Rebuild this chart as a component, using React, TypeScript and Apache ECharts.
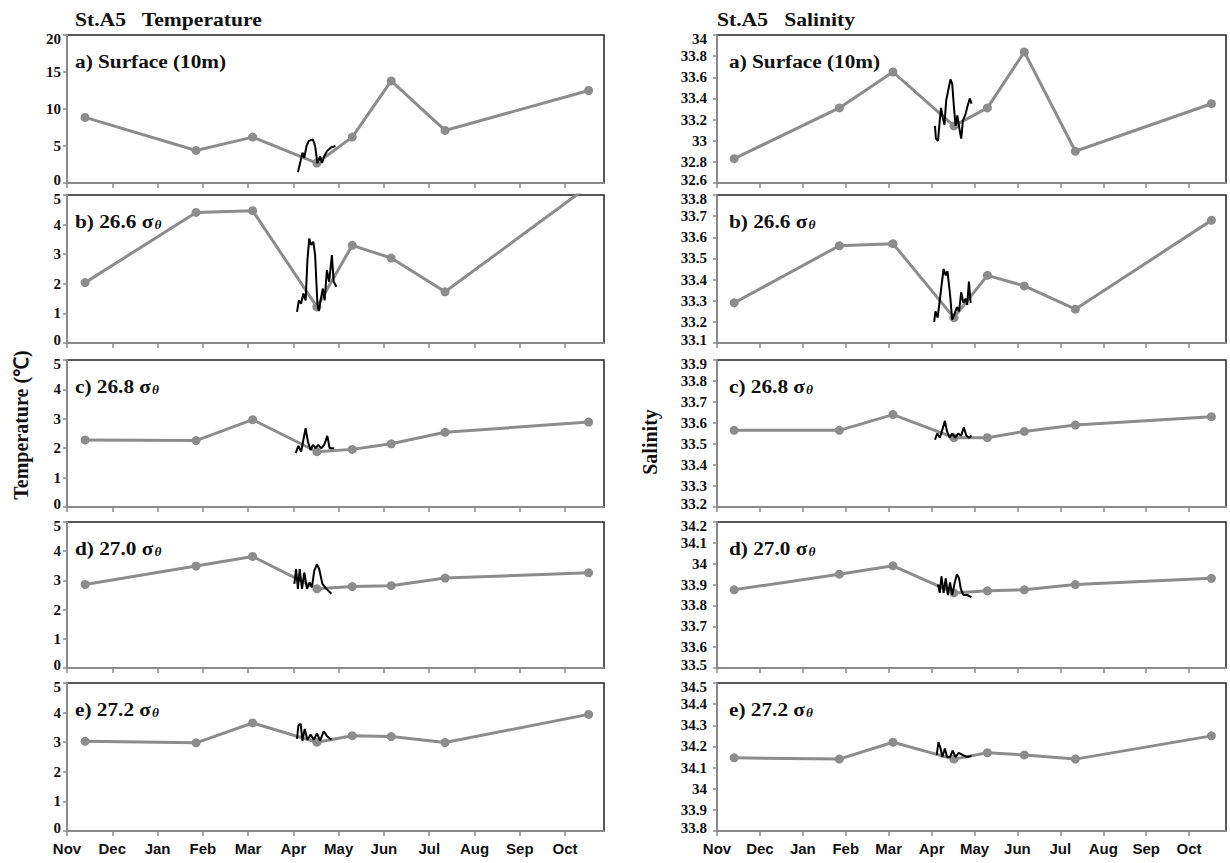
import React, { useEffect, useRef } from 'react';
import * as echarts from 'echarts';

// ---------- data ----------
const monthLabels = ['Nov', 'Dec', 'Jan', 'Feb', 'Mar', 'Apr', 'May', 'Jun', 'Jul', 'Aug', 'Sep', 'Oct'];
const monthTicks = [0, 1, 2, 3, 4, 5, 6, 7, 8, 9, 10, 11];
// ship sampling dates (months since 1 Nov)
const sampleMonths = [0.4, 2.85, 4.1, 5.52, 6.3, 7.16, 8.35, 11.52];

// Temperature (°C), ship observations
const tempSurface = [8.86, 4.4, 6.2, 2.7, 6.2, 13.8, 7.1, 12.5];
const temp266 = [2.04, 4.41, 4.47, 1.22, 3.3, 2.87, 1.73, 5.3];
const temp268 = [2.28, 2.26, 2.97, 1.88, 1.96, 2.15, 2.54, 2.89];
const temp270 = [2.86, 3.49, 3.82, 2.71, 2.79, 2.82, 3.08, 3.26];
const temp272 = [3.03, 2.98, 3.65, 3.0, 3.22, 3.19, 2.99, 3.94];

// Salinity, ship observations
const salSurface = [32.83, 33.31, 33.65, 33.14, 33.31, 33.84, 32.9, 33.35];
const sal266 = [33.29, 33.56, 33.57, 33.22, 33.42, 33.37, 33.26, 33.68];
const sal268 = [33.565, 33.565, 33.64, 33.53, 33.53, 33.56, 33.59, 33.63];
const sal270 = [33.875, 33.95, 33.99, 33.86, 33.87, 33.875, 33.9, 33.93];
const sal272 = [34.146, 34.14, 34.22, 34.14, 34.17, 34.16, 34.14, 34.25];

// April high-frequency records: [month, value]
const tempSurfaceHF = [[5.10, 1.45], [5.16, 3.0], [5.20, 4.1], [5.24, 3.4], [5.29, 5.0], [5.34, 5.7], [5.43, 5.9], [5.48, 5.0], [5.53, 2.7], [5.59, 3.6], [5.63, 2.7], [5.68, 3.6], [5.74, 4.3], [5.83, 4.8], [5.93, 5.0]];
const temp266HF = [[5.08, 1.05], [5.12, 1.44], [5.17, 1.33], [5.22, 1.67], [5.27, 1.44], [5.31, 2.8], [5.35, 3.53], [5.39, 3.31], [5.44, 3.42], [5.48, 2.97], [5.53, 1.33], [5.56, 1.08], [5.6, 1.44], [5.65, 1.84], [5.69, 1.44], [5.74, 2.46], [5.79, 2.07], [5.85, 2.97], [5.89, 2.07], [5.95, 1.9]];
const temp268HF = [[5.05, 1.83], [5.11, 2.08], [5.17, 1.88], [5.22, 2.28], [5.27, 2.68], [5.32, 2.23], [5.38, 1.94], [5.43, 2.11], [5.49, 2.0], [5.55, 2.11], [5.62, 2.0], [5.68, 2.11], [5.75, 2.42], [5.8, 2.0], [5.9, 2.0]];
const temp270HF = [[5.02, 2.88], [5.06, 3.39], [5.1, 2.71], [5.14, 3.39], [5.19, 2.71], [5.24, 3.27], [5.3, 2.71], [5.36, 2.93], [5.41, 2.77], [5.46, 3.33], [5.52, 3.56], [5.57, 3.39], [5.64, 2.88], [5.73, 2.71], [5.84, 2.54]];
const temp272HF = [[5.08, 3.11], [5.11, 3.56], [5.16, 3.62], [5.2, 3.05], [5.25, 3.45], [5.31, 3.08], [5.38, 3.26], [5.45, 3.08], [5.52, 3.3], [5.59, 3.05], [5.67, 3.37], [5.75, 3.19], [5.84, 3.08]];

const salSurfaceHF = [[5.08, 33.14], [5.1, 33.02], [5.15, 33.0], [5.19, 33.19], [5.22, 33.31], [5.26, 33.22], [5.3, 33.15], [5.34, 33.38], [5.39, 33.48], [5.44, 33.58], [5.48, 33.54], [5.52, 33.32], [5.56, 33.14], [5.6, 33.24], [5.65, 33.11], [5.69, 33.02], [5.73, 33.19], [5.79, 33.25], [5.84, 33.33], [5.89, 33.4], [5.93, 33.35]];
const sal266HF = [[5.06, 33.2], [5.09, 33.25], [5.14, 33.22], [5.19, 33.3], [5.23, 33.37], [5.28, 33.45], [5.33, 33.42], [5.37, 33.44], [5.43, 33.33], [5.48, 33.21], [5.54, 33.24], [5.59, 33.27], [5.64, 33.25], [5.69, 33.34], [5.74, 33.29], [5.79, 33.31], [5.83, 33.28], [5.87, 33.39], [5.91, 33.29]];
const sal268HF = [[5.08, 33.52], [5.13, 33.55], [5.19, 33.53], [5.24, 33.56], [5.31, 33.61], [5.36, 33.56], [5.42, 33.53], [5.48, 33.55], [5.55, 33.53], [5.62, 33.55], [5.69, 33.54], [5.75, 33.58], [5.81, 33.54], [5.87, 33.53], [5.93, 33.54]];
const sal270HF = [[5.15, 33.9], [5.19, 33.86], [5.23, 33.94], [5.28, 33.86], [5.33, 33.93], [5.38, 33.85], [5.43, 33.91], [5.48, 33.85], [5.54, 33.91], [5.59, 33.95], [5.64, 33.93], [5.68, 33.88], [5.74, 33.85], [5.83, 33.85], [5.93, 33.84]];
const sal272HF = [[5.12, 34.16], [5.16, 34.22], [5.21, 34.19], [5.25, 34.15], [5.31, 34.19], [5.36, 34.15], [5.43, 34.15], [5.49, 34.18], [5.56, 34.15], [5.63, 34.17], [5.72, 34.16], [5.82, 34.15], [5.93, 34.155]];

const tempRanges = [[0, 20, 5], [0, 5, 1], [0, 5, 1], [0, 5, 1], [0, 5, 1]];
const salRanges = [[32.6, 34, 0.2], [33.1, 33.8, 0.1], [33.2, 33.9, 0.1], [33.5, 34.2, 0.1], [33.8, 34.5, 0.1]];
const panelTags = ['a) Surface (10m)', 'b) 26.6 ', 'c) 26.8 ', 'd) 27.0 ', 'e) 27.2 '];

// ---------- layout ----------
const rowTop = [35, 195, 360, 522, 683];
const rowBottom = [183, 343, 507, 668, 831];
const colLeft = [67, 717];
const colWidth = [537, 509];
const xMax = 11.86;

const SERIF = "'Liberation Serif', 'Times New Roman', serif";
const SANS = "'Liberation Sans', Arial, sans-serif";
const GRAY = '#8c8c8c';
const AXIS = '#8a8a8a';

const fmtNum = (v: number) => String(parseFloat(v.toFixed(3)));

export default function App() {
  const ref = useRef<HTMLDivElement>(null);
  useEffect(() => {
    if (!ref.current) return;
    const chart = echarts.init(ref.current, undefined, { renderer: 'svg' });
    const tempShip = [tempSurface, temp266, temp268, temp270, temp272];
    const salShip = [salSurface, sal266, sal268, sal270, sal272];
    const tempHF = [tempSurfaceHF, temp266HF, temp268HF, temp270HF, temp272HF];
    const salHF = [salSurfaceHF, sal266HF, sal268HF, sal270HF, sal272HF];

    const grids: any[] = [];
    const xAxes: any[] = [];
    const yAxes: any[] = [];
    const series: any[] = [];
    const graphics: any[] = [];

    const tickFont = { fontFamily: SERIF, fontWeight: 'bold', fontSize: 15, color: '#111' };

    for (let c = 0; c < 2; c++) {
      for (let r = 0; r < 5; r++) {
        const idx = c * 5 + r;
        const rng = c === 0 ? tempRanges[r] : salRanges[r];
        grids.push({
          left: colLeft[c], top: rowTop[r], width: colWidth[c], height: rowBottom[r] - rowTop[r],
          show: true, borderColor: '#222', borderWidth: 1.5, backgroundColor: 'transparent',
        });
        xAxes.push({
          gridIndex: idx, type: 'value', min: 0, max: xMax, interval: 1,
          axisLine: { show: true, onZero: false, lineStyle: { color: AXIS, width: 2 } },
          axisTick: { show: true, length: 5, customValues: monthTicks, lineStyle: { color: AXIS, width: 1.5 } },
          axisLabel: {
            show: r === 4, customValues: monthTicks, margin: 10,
            formatter: (v: number) => (Number.isInteger(v) ? monthLabels[v] : ''),
            fontFamily: SANS, fontWeight: 'bold', fontSize: 15, color: '#111',
          },
          splitLine: { show: false },
        });
        const lo = rng[0];
        const hi = rng[1];
        yAxes.push({
          gridIndex: idx, type: 'value', min: lo, max: hi, interval: rng[2],
          axisLine: { show: true, onZero: false, lineStyle: { color: AXIS, width: 2 } },
          axisTick: { show: true, length: 4, lineStyle: { color: AXIS, width: 1.5 } },
          axisLabel: {
            ...tickFont, margin: c === 0 ? 6 : 10,
            formatter: (v: number) => {
              const s = fmtNum(v);
              if (Math.abs(v - lo) < 1e-6) return '{lo|' + s + '}';
              if (Math.abs(v - hi) < 1e-6) return '{hi|' + s + '}';
              return s;
            },
            rich: {
              lo: { ...tickFont, padding: [0, 0, 7, 0] },
              hi: { ...tickFont, padding: [7, 0, 0, 0] },
            },
          },
          splitLine: { show: false },
        });
        const ship = c === 0 ? tempShip[r] : salShip[r];
        series.push({
          type: 'line', xAxisIndex: idx, yAxisIndex: idx, clip: true, z: 2,
          data: sampleMonths.map((m, k) => [m, ship[k]]),
          symbol: 'circle', symbolSize: 9,
          lineStyle: { color: GRAY, width: 3 }, itemStyle: { color: GRAY },
        });
        series.push({
          type: 'line', xAxisIndex: idx, yAxisIndex: idx, clip: true, z: 3,
          data: c === 0 ? tempHF[r] : salHF[r],
          symbol: 'none', showSymbol: false,
          lineStyle: { color: '#000', width: 2 },
        });
        const tag = r === 0 ? '{m|' + panelTags[r] + '}' : '{m|' + panelTags[r] + 'σ}{s|θ}';
        graphics.push({
          type: 'text', x: colLeft[c] + (c === 0 ? 8 : 12), y: rowTop[r] + 26, z: 10, scaleX: 1.12,
          style: {
            text: tag, align: 'left', verticalAlign: 'middle',
            rich: {
              m: { fontFamily: SERIF, fontWeight: 'bold', fontSize: 19, fill: '#111', lineHeight: 22 },
              s: { fontFamily: SERIF, fontWeight: 'bold', fontStyle: 'italic', fontSize: 12, fill: '#111', lineHeight: 22, padding: [8, 0, 0, 1] },
            },
          },
        });
      }
    }

    graphics.push(
      { type: 'text', x: 75, y: 20, scaleX: 1.2, style: { text: 'St.A5   Temperature', font: `bold 18px ${SERIF}`, fill: '#111', verticalAlign: 'middle' } },
      { type: 'text', x: 717, y: 20, scaleX: 1.2, style: { text: 'St.A5   Salinity', font: `bold 18px ${SERIF}`, fill: '#111', verticalAlign: 'middle' } },
      { type: 'text', x: 21, y: 425, rotation: Math.PI / 2, style: { text: 'Temperature (℃)', font: `bold 20px ${SERIF}`, fill: '#111', align: 'center', verticalAlign: 'middle' } },
      { type: 'text', x: 650, y: 442, rotation: Math.PI / 2, style: { text: 'Salinity', font: `bold 20px ${SERIF}`, fill: '#111', align: 'center', verticalAlign: 'middle' } },
    );

    chart.setOption({
      animation: false,
      backgroundColor: '#fff',
      grid: grids,
      xAxis: xAxes,
      yAxis: yAxes,
      series,
      graphic: graphics,
    });
    return () => chart.dispose();
  }, []);
  return <div ref={ref} style={{ position: 'absolute', left: 0, top: 0, width: 1230, height: 863 }} />;
}
